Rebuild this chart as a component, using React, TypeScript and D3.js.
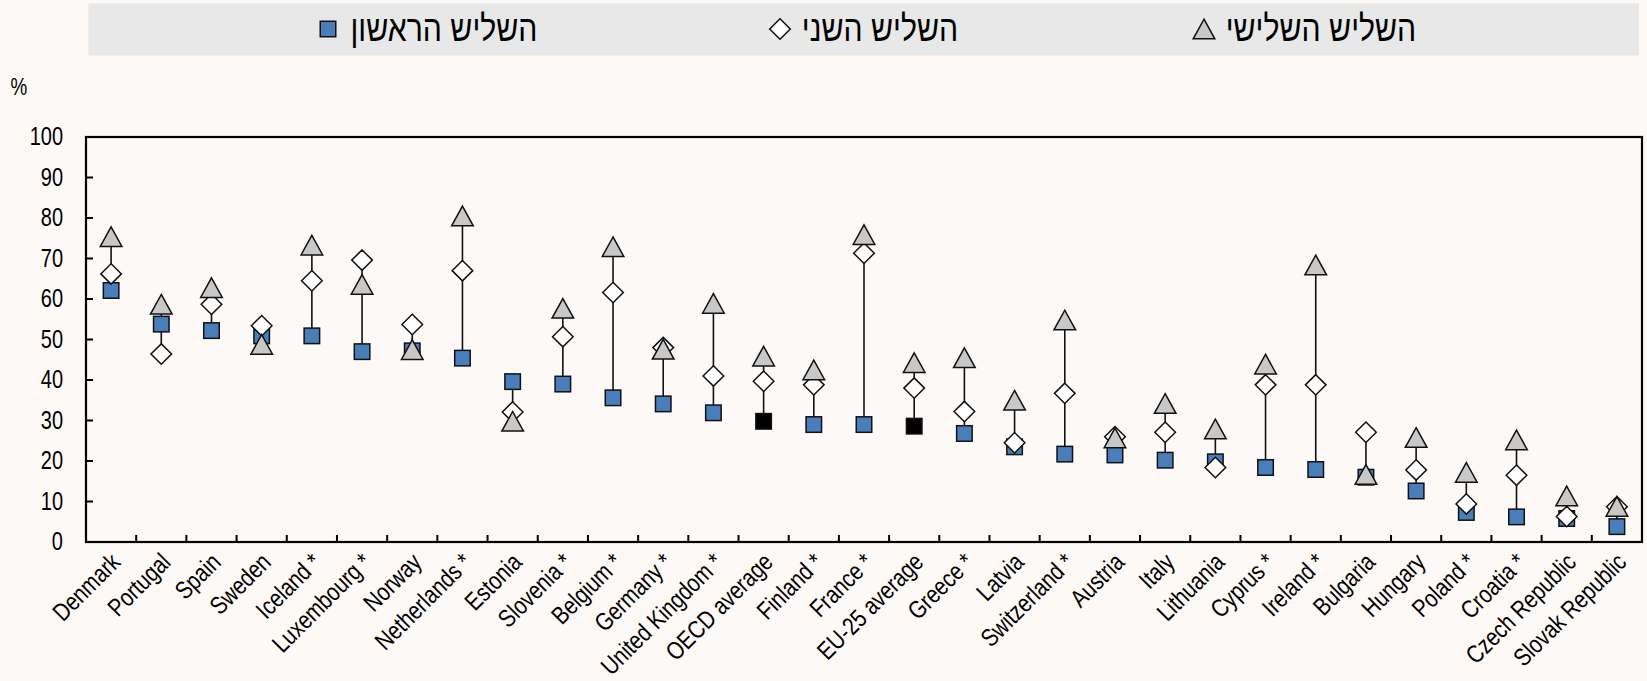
import React from "react";
import * as d3 from "d3";

const categories = [
  "Denmark", "Portugal", "Spain", "Sweden", "Iceland *", "Luxembourg *", "Norway",
  "Netherlands *", "Estonia", "Slovenia *", "Belgium *", "Germany *", "United Kingdom *",
  "OECD average", "Finland *", "France *", "EU-25 average", "Greece *", "Latvia",
  "Switzerland *", "Austria", "Italy", "Lithuania", "Cyprus *", "Ireland *", "Bulgaria",
  "Hungary", "Poland *", "Croatia *", "Czech Republic", "Slovak Republic",
];

const firstThird = [
  62.1, 53.8, 52.2, 50.9, 50.9, 47.0, 47.2, 45.4, 39.6, 39.0, 35.6, 34.1, 31.9, 29.8, 29.0,
  29.0, 28.6, 26.8, 23.5, 21.7, 21.5, 20.2, 19.8, 18.4, 17.9, 16.0, 12.6, 7.3, 6.2, 5.8, 3.8,
];
const secondThird = [
  66.2, 46.4, 58.7, 53.4, 64.5, 69.6, 53.7, 67.0, 32.1, 50.7, 61.6, 48.0, 41.0, 39.7, 38.8,
  71.3, 38.0, 32.2, 24.5, 36.7, 26.0, 27.1, 18.4, 38.8, 38.8, 27.1, 17.8, 9.4, 16.5, 6.3, 8.7,
];
const thirdThird = [
  75.4, 58.7, 62.8, 48.8, 73.3, 63.6, 47.5, 80.5, 29.8, 57.7, 72.9, 47.6, 58.9, 45.9, 42.5,
  75.9, 44.3, 45.5, 35.0, 54.8, 25.7, 34.2, 27.9, 43.9, 68.4, 16.7, 25.8, 17.2, 25.2, 11.4, 8.8,
];
const averageCategories = ["OECD average", "EU-25 average"];
const yTicks = [0, 10, 20, 30, 40, 50, 60, 70, 80, 90, 100];
const legendLabels = ["השליש הראשון", "השליש השני", "השליש השלישי"];
const unitLabel = "%";

const FONT = "'Liberation Sans Narrow', 'Arial Narrow', 'Liberation Sans', Arial, sans-serif";
const BLUE = "#4a7ebb";
const GRAY = "#c8c8c8";
const BG = "#fdf9f6";

function Square({ cx, cy, fill }: { cx: number; cy: number; fill: string }) {
  const s = 15.5;
  return <rect x={cx - s / 2} y={cy - s / 2} width={s} height={s} fill={fill} stroke="#111" strokeWidth={1.5} />;
}
function Diamond({ cx, cy }: { cx: number; cy: number }) {
  const w = 10.3, h = 10.2;
  return (
    <path d={`M${cx},${cy - h}L${cx + w},${cy}L${cx},${cy + h}L${cx - w},${cy}Z`} fill="#fff" stroke="#111" strokeWidth={1.5} />
  );
}
function Triangle({ cx, cy }: { cx: number; cy: number }) {
  const w = 10.8, h = 9.8;
  return (
    <path d={`M${cx},${cy - h}L${cx + w},${cy + h}L${cx - w},${cy + h}Z`} fill={GRAY} stroke="#111" strokeWidth={1.5} />
  );
}

export default function App() {
  const W = 1647, H = 681;
  const left = 86, right = 1642, top = 137, bottom = 542;
  const x = d3.scaleBand<string>().domain(categories).range([left, right]);
  const y = d3.scaleLinear().domain([0, 100]).range([bottom, top]);
  const bw = x.bandwidth();
  const cx = (c: string) => (x(c) as number) + bw / 2;

  const legendItems = [
    { mx: 328, tx: 444, label: legendLabels[0], kind: "square" },
    { mx: 780, tx: 880, label: legendLabels[1], kind: "diamond" },
    { mx: 1204, tx: 1321, label: legendLabels[2], kind: "triangle" },
  ];

  return (
    <div style={{ position: "absolute", left: 0, top: 0, width: W, height: H }}>
      <svg width={W} height={H} style={{ display: "block", fontFamily: FONT }}>
        <rect x={0} y={0} width={W} height={H} fill={BG} />
        {/* legend */}
        <rect x={88.5} y={3.5} width={1550.5} height={52} fill="#e8e8e8" />
        {legendItems.map((it) => (
          <g key={it.label}>
            {it.kind === "square" && <Square cx={it.mx} cy={29} fill={BLUE} />}
            {it.kind === "diamond" && <Diamond cx={it.mx} cy={29} />}
            {it.kind === "triangle" && <Triangle cx={it.mx} cy={29} />}
            <text
              transform={`translate(${it.tx},29) scale(0.84,1)`}
              fontSize={36}
              textAnchor="middle"
              dominantBaseline="central"
            >
              {it.label}
            </text>
          </g>
        ))}

        <text transform="translate(19,87) scale(0.82,1)" fontSize={23} textAnchor="middle" dominantBaseline="central">{unitLabel}</text>

        {/* y ticks */}
        {yTicks.map((t) => (
          <g key={t}>
            <line x1={left} x2={left + 7} y1={y(t)} y2={y(t)} stroke="#000" strokeWidth={2} />
            <text transform={`translate(63,${y(t)}) scale(0.8,1)`} fontSize={25} textAnchor="end" dominantBaseline="central">{t}</text>
          </g>
        ))}
        {/* x ticks */}
        {categories.slice(1).map((c) => (
          <line key={c} x1={x(c) as number} x2={x(c) as number} y1={bottom} y2={bottom - 7} stroke="#000" strokeWidth={2} />
        ))}
        {/* x labels */}
        {categories.map((c) => (
          <text
            key={c}
            transform={`translate(${cx(c) - 2},${bottom + 9}) rotate(-45) scale(0.82,1)`}
            fontSize={25}
            textAnchor="end"
            dy="0.72em"
          >
            {c}
          </text>
        ))}

        {/* high-low lines */}
        {categories.map((c, i) => {
          const vals = [firstThird[i], secondThird[i], thirdThird[i]];
          return (
            <line key={c} x1={cx(c)} x2={cx(c)} y1={y(d3.min(vals) as number)} y2={y(d3.max(vals) as number)} stroke="#111" strokeWidth={1.6} />
          );
        })}
        {categories.map((c, i) => (
          <Square key={c} cx={cx(c)} cy={y(firstThird[i])} fill={averageCategories.includes(c) ? "#000" : BLUE} />
        ))}
        {categories.map((c, i) => (
          <Diamond key={c} cx={cx(c)} cy={y(secondThird[i])} />
        ))}
        {categories.map((c, i) => (
          <Triangle key={c} cx={cx(c)} cy={y(thirdThird[i])} />
        ))}

        {/* frame */}
        <rect x={left} y={top} width={right - left} height={bottom - top} fill="none" stroke="#000" strokeWidth={2.2} />
      </svg>
    </div>
  );
}
